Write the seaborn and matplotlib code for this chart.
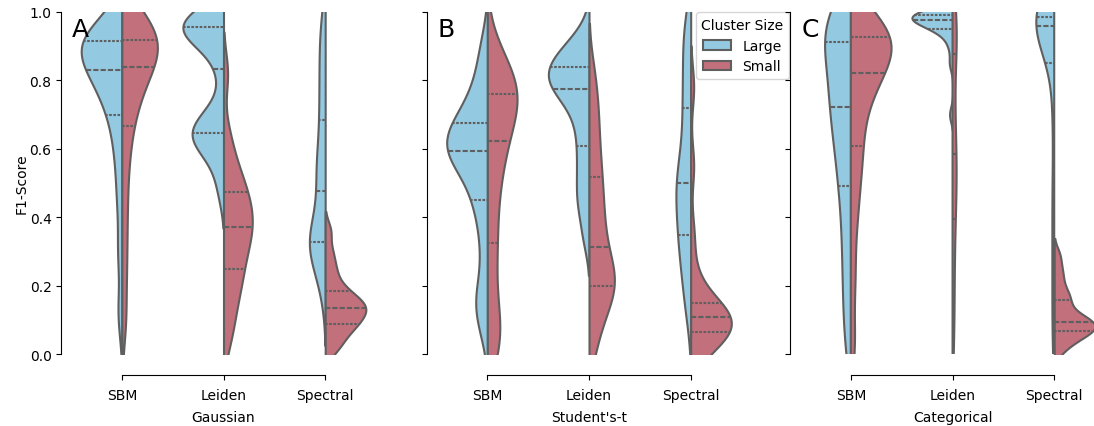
import seaborn as sns
import matplotlib.pyplot as plt
import pandas as pd

methods = ['SBM', 'Leiden', 'Spectral']
sizes = ['Large', 'Small']
panels = ['Gaussian', "Student's-t", 'Categorical']
letters = ['A', 'B', 'C']
colors = ['#93c9e1', '#c1707c']

# F1 scores, 21 per group (quartiles sit at idx 5/10/15)
gauss_sbm_large = [0.12, 0.30, 0.45, 0.56, 0.64, 0.70, 0.74, 0.77, 0.80, 0.82, 0.83,
                   0.85, 0.87, 0.89, 0.90, 0.914, 0.92, 0.925, 0.93, 0.94, 0.955]
gauss_sbm_small = [0.10, 0.25, 0.38, 0.50, 0.60, 0.668, 0.72, 0.76, 0.79, 0.82, 0.839,
                   0.86, 0.88, 0.895, 0.905, 0.917, 0.93, 0.94, 0.955, 0.97, 0.99]
gauss_leiden_large = [0.48, 0.56, 0.60, 0.62, 0.64, 0.646, 0.65, 0.66, 0.68, 0.72, 0.833,
                      0.90, 0.93, 0.94, 0.95, 0.956, 0.96, 0.965, 0.97, 0.98, 0.99]
gauss_leiden_small = [0.04, 0.10, 0.15, 0.19, 0.22, 0.249, 0.28, 0.31, 0.33, 0.35, 0.371,
                      0.39, 0.41, 0.43, 0.45, 0.474, 0.50, 0.53, 0.57, 0.64, 0.82]
gauss_spectral_large = [0.18, 0.25, 0.28, 0.30, 0.315, 0.328, 0.335, 0.345, 0.36, 0.40, 0.478,
                        0.51, 0.54, 0.57, 0.62, 0.685, 0.74, 0.80, 0.86, 0.92, 0.98]
gauss_spectral_small = [0.01, 0.03, 0.05, 0.07, 0.08, 0.088, 0.10, 0.11, 0.12, 0.13, 0.135,
                        0.14, 0.15, 0.16, 0.17, 0.184, 0.20, 0.23, 0.26, 0.30, 0.36]

student_sbm_large = [0.08, 0.15, 0.18, 0.30, 0.40, 0.451, 0.50, 0.54, 0.57, 0.59, 0.594,
                     0.60, 0.62, 0.63, 0.65, 0.675, 0.69, 0.72, 0.76, 0.82, 0.90]
student_sbm_small = [0.02, 0.04, 0.07, 0.15, 0.25, 0.325, 0.40, 0.48, 0.54, 0.58, 0.622,
                     0.66, 0.70, 0.72, 0.74, 0.759, 0.77, 0.79, 0.81, 0.84, 0.88]
student_leiden_large = [0.34, 0.42, 0.46, 0.51, 0.56, 0.609, 0.66, 0.70, 0.74, 0.76, 0.775,
                        0.79, 0.80, 0.81, 0.82, 0.839, 0.85, 0.86, 0.88, 0.90, 0.93]
student_leiden_small = [0.02, 0.08, 0.13, 0.16, 0.18, 0.200, 0.21, 0.23, 0.25, 0.28, 0.312,
                        0.35, 0.39, 0.43, 0.47, 0.518, 0.56, 0.62, 0.68, 0.74, 0.82]
student_spectral_large = [0.12, 0.18, 0.24, 0.28, 0.32, 0.348, 0.38, 0.42, 0.45, 0.48, 0.501,
                          0.52, 0.56, 0.60, 0.66, 0.718, 0.76, 0.82, 0.88, 0.93, 0.98]
student_spectral_small = [0.01, 0.03, 0.04, 0.05, 0.06, 0.065, 0.07, 0.08, 0.09, 0.10, 0.107,
                          0.11, 0.12, 0.13, 0.14, 0.15, 0.18, 0.24, 0.35, 0.55, 0.78]

cat_sbm_large = [0.03, 0.14, 0.24, 0.33, 0.42, 0.491, 0.55, 0.60, 0.65, 0.69, 0.723,
                 0.76, 0.79, 0.83, 0.87, 0.911, 0.93, 0.95, 0.97, 0.985, 1.0]
cat_sbm_small = [0.03, 0.22, 0.38, 0.48, 0.56, 0.609, 0.68, 0.74, 0.78, 0.80, 0.823,
                 0.85, 0.87, 0.89, 0.91, 0.927, 0.93, 0.935, 0.94, 0.95, 0.96]
cat_leiden_large = [0.70, 0.85, 0.90, 0.93, 0.945, 0.951, 0.96, 0.965, 0.97, 0.975, 0.977,
                    0.98, 0.982, 0.985, 0.99, 0.992, 0.994, 0.996, 0.998, 1.0, 1.0]
cat_leiden_small = [0.02, 0.10, 0.18, 0.26, 0.33, 0.395, 0.44, 0.48, 0.52, 0.55, 0.585,
                    0.62, 0.68, 0.74, 0.82, 0.877, 0.92, 0.95, 0.97, 0.98, 0.99]
cat_spectral_large = [0.05, 0.20, 0.35, 0.50, 0.70, 0.85, 0.94, 0.95, 0.955, 0.958, 0.960,
                      0.965, 0.97, 0.975, 0.98, 0.985, 0.988, 0.99, 0.993, 0.996, 1.0]
cat_spectral_small = [0.01, 0.03, 0.045, 0.055, 0.06, 0.066, 0.075, 0.08, 0.085, 0.09, 0.095,
                      0.10, 0.11, 0.12, 0.14, 0.159, 0.17, 0.19, 0.22, 0.25, 0.29]

groups = [
    [(gauss_sbm_large, gauss_sbm_small), (gauss_leiden_large, gauss_leiden_small),
     (gauss_spectral_large, gauss_spectral_small)],
    [(student_sbm_large, student_sbm_small), (student_leiden_large, student_leiden_small),
     (student_spectral_large, student_spectral_small)],
    [(cat_sbm_large, cat_sbm_small), (cat_leiden_large, cat_leiden_small),
     (cat_spectral_large, cat_spectral_small)],
]


def frame(panel):
    rows = []
    for method, (large, small) in zip(methods, panel):
        rows += [(method, 'Large', v) for v in large]
        rows += [(method, 'Small', v) for v in small]
    return pd.DataFrame(rows, columns=['method', 'Cluster Size', 'f1'])


fig = plt.figure(figsize=(10.94, 4.27), dpi=100)
lefts = [0.0649, 0.399, 0.7313]

for i in range(3):
    ax = fig.add_axes([lefts[i], 0.1686, 0.2788, 0.801])
    df = frame(groups[i])
    # one call per method: both halves of a violin share one density scale
    for method in methods:
        sns.violinplot(data=df[df['method'] == method], x='method', y='f1',
                       hue='Cluster Size', hue_order=sizes, order=methods,
                       split=True, inner='quart', palette=colors, saturation=1,
                       linewidth=1.5, linecolor='#5f5f5f', bw_adjust=0.6,
                       common_norm=True,
                       legend=(i == 1 and method == 'SBM'), ax=ax)
    ax.set_ylim(0, 1)
    ax.set_yticks([0, 0.2, 0.4, 0.6, 0.8, 1.0])
    ax.tick_params(axis='x', pad=6)
    ax.set_xlabel(panels[i], fontsize=10, labelpad=6)
    if i == 0:
        ax.set_ylabel('F1-Score', fontsize=10, labelpad=1)
    else:
        ax.set_ylabel('')
        ax.tick_params(labelleft=False)
    ax.text(0.004, 0.985, letters[i], transform=ax.transAxes, fontsize=18,
            va='top', ha='left')
    sns.despine(ax=ax, offset={'left': 7, 'bottom': 15}, trim=True)
    if i == 1:
        sns.move_legend(ax, 'upper right', bbox_to_anchor=(789 / 1094, 1 - 13 / 427),
                        bbox_transform=fig.transFigure, borderaxespad=0,
                        title='Cluster Size', fontsize=10, title_fontsize=10)

fig.savefig('out.png', dpi=100)
